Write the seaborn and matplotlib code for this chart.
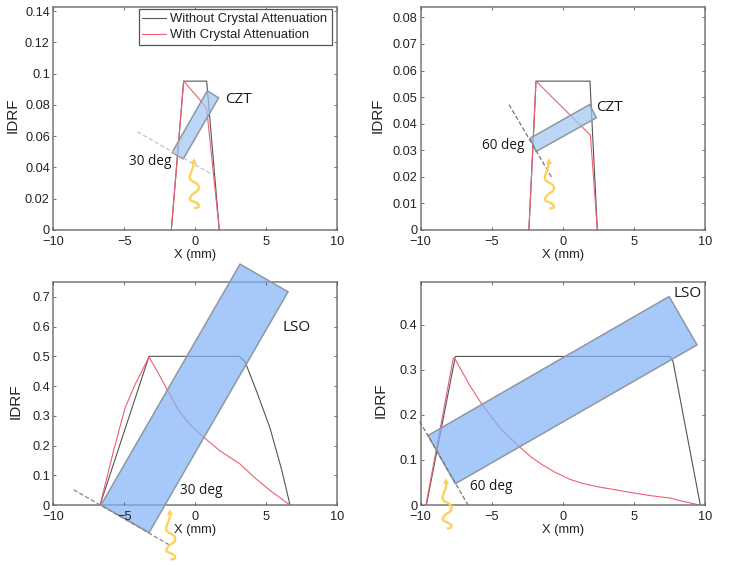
import matplotlib
matplotlib.use("Agg")
import matplotlib.pyplot as plt
import numpy as np
import pandas as pd
import seaborn as sns

W, H = 746, 567
NO_ATT = "Without Crystal Attenuation"
ATT = "With Crystal Attenuation"

# --- curves (x in mm, IDRF) ---
cz30_black_x = [-1.69, -0.82, 0.80, 1.69]
cz30_black_y = [0, 0.0952, 0.0952, 0]
cz30_red_x = [-1.69, -0.82, 0.45, 0.80, 1.69]
cz30_red_y = [0, 0.0952, 0.0819, 0.0776, 0]

cz60_black_x = [-2.38, -1.88, 1.92, 2.44]
cz60_black_y = [0, 0.056, 0.056, 0]
cz60_red_x = [-2.38, -1.88, 1.95, 2.44]
cz60_red_y = [0, 0.056, 0.0357, 0]

ls30_black_x = [-6.71, -3.26, 3.08, 3.5, 4.32, 5.26, 6.08, 6.67]
ls30_black_y = [0, 0.5, 0.5, 0.482, 0.382, 0.259, 0.119, 0]
ls30_red_x = [-6.71, -5.77, -4.95, -4.25, -3.26, -2.6, -1.97, -1.2, -0.37, 0.61, 1.74, 3.15, 4.08, 5.26, 6.67]
ls30_red_y = [0, 0.18, 0.326, 0.404, 0.498, 0.443, 0.387, 0.32, 0.27, 0.227, 0.182, 0.138, 0.096, 0.049, 0]

ls60_black_x = [-9.6, -7.56, 7.54, 7.77, 9.69]
ls60_black_y = [0, 0.33, 0.33, 0.319, 0]
ls60_red_x = [-9.63, -7.7, -7.54, -6.53, -5.7, -5.0, -4.42, -3.0, -2.2, -1.37, -0.5, 0.51, 1.4, 2.39, 4.03, 4.95, 6.13, 7.54, 8.47, 9.65]
ls60_red_y = [0, 0.327, 0.322, 0.265, 0.224, 0.195, 0.171, 0.128, 0.106, 0.088, 0.072, 0.057, 0.048, 0.041, 0.032, 0.027, 0.021, 0.0155, 0.008, 0]

# --- crystal outlines and incidence lines ---
cz30_rect = [(-1.64, 0.0495), (0.845, 0.089), (1.64, 0.0845), (-0.845, 0.0455)]
cz60_rect = [(-2.3, 0.0345), (1.9, 0.0472), (2.37, 0.0422), (-1.88, 0.0295)]
ls30_rect = [(-6.64, 0), (3.15, 0.81), (6.53, 0.717), (-3.26, -0.093)]
ls60_rect = [(-9.48, 0.1545), (7.49, 0.463), (9.46, 0.3556), (-7.56, 0.0473)]

cz30_dash = [(-4.08, 0.0628), (1.17, 0.0356)]
cz60_dash = [(-3.78, 0.0472), (-0.8, 0.02)]
ls30_dash = [(-8.57, 0.0515), (-1.78, -0.1355)]
ls60_dash = [(-10.07, 0.1856), (-6.67, 0)]

# squiggle shape, pixels from the arrow tip
wave_dx = [0, -0.3, -1.5, -3.2, -4.0, -3.2, -1.0, 2.0, 4.5, 5.4, 4.6, 2.5, -0.3, -2.5, -3.8, -3.2, -0.5, 3.0, 5.2, 5.0, 3.2, 1.3]
wave_dy = [0, 5, 9, 13, 16, 18.7, 20.5, 22, 24, 26.5, 29.3, 31, 32.7, 35, 37.5, 39.3, 40.5, 42, 44, 46, 47, 47]

x_ticks = [-10, -5, 0, 5, 10]
x_ticklabels = ["\u221210", "\u22125", "0", "5", "10"]

panels = [
    dict(pos=(53.3, 6.7), ylim=0.1428, yticks=[0, 0.02, 0.04, 0.06, 0.08, 0.1, 0.12, 0.14],
         ylabels=["0", "0.02", "0.04", "0.06", "0.08", "0.1", "0.12", "0.14"],
         black=(cz30_black_x, cz30_black_y), red=(cz30_red_x, cz30_red_y),
         rect=cz30_rect, fill="#9fc6f1", dash=cz30_dash, dash_color="#c2c6ca",
         tip=(-0.12, 0.0442), angle=("30 deg", -4.65, 0.0437), name=("CZT", 2.1, 0.0837), ylabel_px=(13, 115)),
    dict(pos=(420.7, 6.7), ylim=0.084, yticks=[0, 0.01, 0.02, 0.03, 0.04, 0.05, 0.06, 0.07, 0.08],
         ylabels=["0", "0.01", "0.02", "0.03", "0.04", "0.05", "0.06", "0.07", "0.08"],
         black=(cz60_black_x, cz60_black_y), red=(cz60_red_x, cz60_red_y),
         rect=cz60_rect, fill="#9fc6f1", dash=cz60_dash, dash_color="#777777",
         tip=(-0.99, 0.0258), angle=("60 deg", -5.68, 0.0319), name=("CZT", 2.37, 0.0462), ylabel_px=(378, 115)),
    dict(pos=(53.3, 281.7), ylim=0.751, yticks=[0, 0.1, 0.2, 0.3, 0.4, 0.5, 0.6, 0.7],
         ylabels=["0", "0.1", "0.2", "0.3", "0.4", "0.5", "0.6", "0.7"],
         black=(ls30_black_x, ls30_black_y), red=(ls30_red_x, ls30_red_y),
         rect=ls30_rect, fill="#80b3f9", dash=ls30_dash, dash_color="#888888",
         tip=(-1.78, -0.0246), angle=("30 deg", -1.06, 0.048), name=("LSO", 6.17, 0.597), ylabel_px=(16, 401.7)),
    dict(pos=(420.7, 281.7), ylim=0.496, yticks=[0, 0.1, 0.2, 0.3, 0.4],
         ylabels=["0", "0.1", "0.2", "0.3", "0.4"],
         black=(ls60_black_x, ls60_black_y), red=(ls60_red_x, ls60_red_y),
         rect=ls60_rect, fill="#80b3f9", dash=ls60_dash, dash_color="#777777",
         tip=(-8.19, 0.0525), angle=("60 deg", -6.55, 0.0414), name=("LSO", 7.82, 0.469), ylabel_px=(381, 400)),
]

sns.set_theme(style="white")
plt.rcParams["font.family"] = ["Liberation Sans", "DejaVu Sans"]

fig = plt.figure(figsize=(W / 100, H / 100), dpi=100, facecolor="white")

for i, p in enumerate(panels):
    left, top = p["pos"]
    ax = fig.add_axes([left / W, 1 - (top + 223.3) / H, 284 / W, 223.3 / H], facecolor="white")

    df = pd.concat([
        pd.DataFrame({"x": p["black"][0], "y": p["black"][1], "series": NO_ATT}),
        pd.DataFrame({"x": p["red"][0], "y": p["red"][1], "series": ATT}),
    ])
    sns.lineplot(data=df, x="x", y="y", hue="series", hue_order=[NO_ATT, ATT],
                 palette={NO_ATT: "#555555", ATT: "#ee5f72"}, estimator=None, sort=False,
                 linewidth=0.8, legend=i == 0, ax=ax)

    ax.set_xlim(-10, 10)
    ax.set_ylim(0, p["ylim"])
    ax.set_xticks(x_ticks, x_ticklabels)
    ax.set_yticks(p["yticks"], p["ylabels"])
    ax.tick_params(axis="both", direction="in", length=2.2, width=0.6, color="#555555", labelcolor="#222222",
                   labelsize=9.2, top=True, right=True, left=True, bottom=True)
    ax.tick_params(axis="x", pad=4.5)
    ax.tick_params(axis="y", pad=2.5)
    ax.xaxis.set_zorder(5)
    for s in ax.spines.values():
        s.set_color("#777777")
        s.set_linewidth(1.1)

    ax.set_xlabel("X (mm)", fontsize=9.3, color="#222222", labelpad=0.5)
    ax.set_ylabel("")
    fig.text(p["ylabel_px"][0] / W, 1 - p["ylabel_px"][1] / H, "IDRF", rotation=90, ha="center", va="center",
             fontsize=11, color="#222222")

    ax.fill([c[0] for c in p["rect"]], [c[1] for c in p["rect"]], facecolor=p["fill"], alpha=0.7,
            edgecolor="none", zorder=3, clip_on=False)
    ax.fill([c[0] for c in p["rect"]], [c[1] for c in p["rect"]], facecolor="none",
            edgecolor="#8d98a3", linewidth=1.1, zorder=3.1, clip_on=False)
    ax.plot([c[0] for c in p["dash"]], [c[1] for c in p["dash"]], color=p["dash_color"],
            linestyle=(0, (3.5, 1.8)), linewidth=0.9, zorder=3.2, clip_on=False)

    # squiggle placed in pixels below the tip, whatever the panel's y scale is
    tip_px = ax.transData.transform(p["tip"])
    wave_px = np.column_stack([tip_px[0] + np.array(wave_dx), tip_px[1] - np.array(wave_dy)])
    wave = ax.transData.inverted().transform(wave_px)
    ax.plot(wave[:, 0], wave[:, 1], color="#fdd258", linewidth=1.7, solid_capstyle="round",
            solid_joinstyle="round", zorder=4, clip_on=False)
    ax.plot([p["tip"][0]], [p["tip"][1]], marker="^", markersize=4.2, color="#fdd258",
            markeredgewidth=0, zorder=4, clip_on=False)

    ax.text(p["angle"][1], p["angle"][2], p["angle"][0], fontfamily="Open Sans", fontsize=9.8,
            color="#1a1a1a", ha="left", va="center", zorder=6)
    ax.text(p["name"][1], p["name"][2], p["name"][0], fontfamily="Open Sans", fontsize=11,
            color="#1a1a1a", ha="left", va="center", zorder=6)

    if i == 0:
        # legend box spans 138.7..331.7 px across, 11..45 px down
        box = ((138.7 - left) / 284, 1 - (45 - top) / 223.3, 193 / 284, 34 / 223.3)
        leg = ax.legend(loc="lower left", bbox_to_anchor=box, mode="expand", fancybox=False, framealpha=1,
                        edgecolor="#555555", fontsize=9.4, title=None, handlelength=1.85, handletextpad=0.3,
                        borderpad=0.27, borderaxespad=0, labelspacing=0.32, labelcolor="#222222")
        leg.get_frame().set_linewidth(0.9)
        leg.set_zorder(7)

fig.savefig("out.png", dpi=100, facecolor="white")
